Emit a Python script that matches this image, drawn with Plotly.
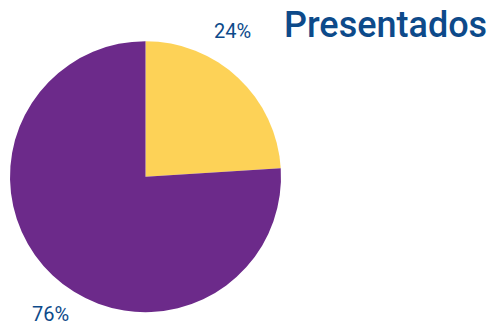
import plotly.graph_objects as go

categories = ["Sí", "No"]
values = [24, 76]
colors = ["#FDD257", "#6C2A8A"]
title_text = "Presentados"
text_color = "#0D4A8A"

total = sum(values)
pct_labels = [f"{round(v * 100 / total)}%" for v in values]

fig = go.Figure(
    go.Pie(
        labels=categories,
        values=values,
        sort=False,
        direction="clockwise",
        rotation=0,
        marker=dict(colors=colors, line=dict(width=0)),
        textinfo="none",
        hoverinfo="label+percent",
        domain=dict(x=[10 / 494, 281 / 494], y=[13.8 / 326, 284.8 / 326]),
        showlegend=False,
    )
)

label_pos = [(232 / 494, 1 - 31 / 326), (50 / 494, 1 - 314 / 326)]
for txt, (x, y) in zip(pct_labels, label_pos):
    fig.add_annotation(
        x=x, y=y, xref="paper", yref="paper", text=txt, showarrow=False,
        xanchor="center", yanchor="middle",
        font=dict(family="Roboto", size=20, color=text_color, weight=400),
    )

fig.add_annotation(
    x=489 / 494, y=1 - 25 / 326, xref="paper", yref="paper", text=title_text,
    showarrow=False, xanchor="right", yanchor="middle",
    font=dict(family="Roboto", size=36, color=text_color, weight=500),
)

fig.update_layout(
    width=494, height=326,
    margin=dict(l=0, r=0, t=0, b=0),
    paper_bgcolor="white", plot_bgcolor="white",
)

fig.write_html(
    "out.html",
    config={"displayModeBar": False},
    post_script="document.body.style.margin='0';",
)
